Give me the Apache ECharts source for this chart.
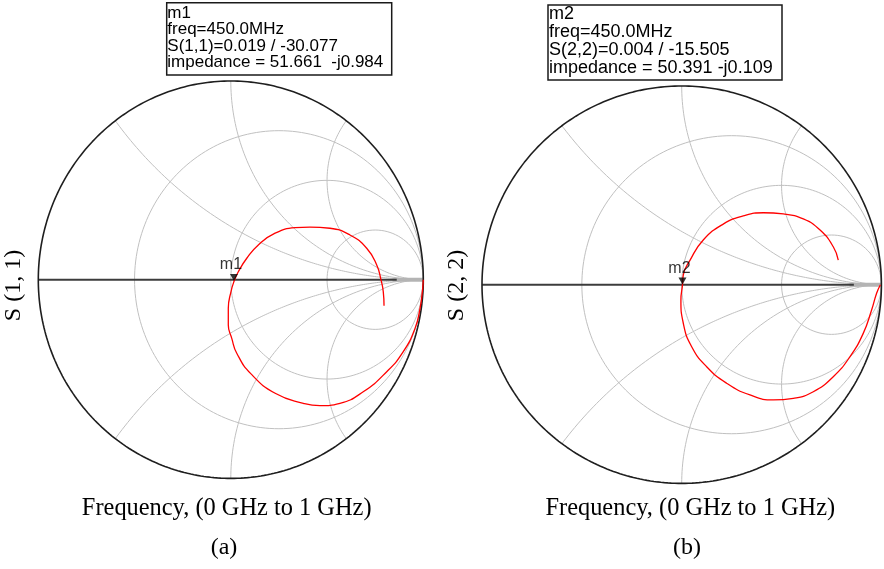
<!DOCTYPE html>
<html>
<head>
<meta charset="utf-8">
<script src="https://cdn.jsdelivr.net/npm/echarts@6/dist/echarts.min.js"></script>
<style>
html,body{margin:0;padding:0;background:#fff;}
#chart{width:884px;height:569px;}
</style>
</head>
<body>
<div id="chart"></div>
<script>
const s11Re = [1.000, 0.995, 0.983, 0.957, 0.896, 0.810, 0.688, 0.567, 0.463, 0.377, 0.233, 0.105, 0.031, 0.005, -0.013, -0.013, 0.001, 0.017, 0.039, 0.083, 0.143, 0.230, 0.334, 0.411, 0.515, 0.619, 0.706, 0.758, 0.780, 0.792, 0.796];
const s11Im = [0.000, -0.060, -0.144, -0.245, -0.362, -0.463, -0.564, -0.622, -0.634, -0.622, -0.573, -0.474, -0.370, -0.295, -0.228, -0.144, -0.060, -0.008, 0.040, 0.108, 0.175, 0.234, 0.262, 0.265, 0.259, 0.225, 0.158, 0.074, 0.000, -0.060, -0.131];
const s22Re = [0.995, 0.976, 0.951, 0.909, 0.843, 0.759, 0.659, 0.559, 0.459, 0.342, 0.225, 0.125, 0.050, 0.008, -0.004, 0.004, 0.008, 0.042, 0.108, 0.208, 0.308, 0.409, 0.509, 0.609, 0.693, 0.759, 0.784];
const s22Im = [0.000, -0.043, -0.127, -0.245, -0.362, -0.463, -0.539, -0.572, -0.580, -0.555, -0.496, -0.413, -0.312, -0.194, -0.077, -0.001, 0.049, 0.124, 0.225, 0.305, 0.346, 0.362, 0.356, 0.331, 0.275, 0.191, 0.124];

// markers (magnitude, angle in degrees)
const marker1 = {name: 'm1', mag: 0.019, ang: -30.077};
const marker2 = {name: 'm2', mag: 0.004, ang: -15.505};
const marker1Text = ['m1', 'freq=450.0MHz', 'S(1,1)=0.019 / -30.077', 'impedance = 51.661  -j0.984'];
const marker2Text = ['m2', 'freq=450.0MHz', 'S(2,2)=0.004 / -15.505', 'impedance = 50.391 -j0.109'];

// Smith chart grid values
const resistanceCircles = [1/3, 1, 3];
const reactanceArcs = [0.5, 1, 2, -0.5, -1, -2];

const yLabels = ['S (1, 1)', 'S (2, 2)'];
const xLabel = 'Frequency, (0 GHz to 1 GHz)';
const captions = ['(a)', '(b)'];

// ---- helpers to build Smith chart furniture ----
function circlePts(cx, cy, r, a0, a1, n) {
  const pts = [];
  for (let i = 0; i <= n; i++) {
    const a = a0 + (a1 - a0) * i / n;
    pts.push([cx + r * Math.cos(a), cy + r * Math.sin(a)]);
  }
  return pts;
}
function rCircle(r) {
  return circlePts(r / (r + 1), 0, 1 / (r + 1), 0, 2 * Math.PI, 200);
}
function xArc(x) {
  const ax = Math.abs(x);
  let end = Math.atan2((ax * ax - 1) / ax, -2);
  if (end > -Math.PI / 2) end -= 2 * Math.PI;
  const pts = circlePts(1, 1 / ax, 1 / ax, -Math.PI / 2, end, 160);
  return x < 0 ? pts.map(p => [p[0], -p[1]]) : pts;
}
function zip(a, b) { return a.map((v, i) => [v, b[i]]); }
function polar(m) {
  const t = m.ang * Math.PI / 180;
  return [m.mag * Math.cos(t), m.mag * Math.sin(t)];
}

const GRID_COLOR = '#c0c0c0';
function smithSeries(idx, traceRe, traceIm, marker) {
  const s = [];
  const base = {type: 'line', xAxisIndex: idx, yAxisIndex: idx, showSymbol: false, symbol: 'none', silent: true, animation: false, z: 2};
  resistanceCircles.forEach(r => s.push(Object.assign({}, base, {data: rCircle(r), lineStyle: {color: GRID_COLOR, width: 1}})));
  reactanceArcs.forEach(x => s.push(Object.assign({}, base, {data: xArc(x), lineStyle: {color: GRID_COLOR, width: 1}})));
  // grey convergence near the open-circuit point
  s.push(Object.assign({}, base, {data: [[0.84, 0], [1, 0]], lineStyle: {color: '#b4b4b4', width: 4}, z: 3}));
  // real axis
  s.push(Object.assign({}, base, {data: [[-1, 0], [0.862, 0]], lineStyle: {color: '#3c3c3c', width: 2}, z: 4}));
  // outer circle
  s.push(Object.assign({}, base, {data: circlePts(0, 0, 1, 0, 2 * Math.PI, 360), clip: false, lineStyle: {color: '#1e1e1e', width: 1.6}, z: 5}));
  // trace
  s.push(Object.assign({}, base, {data: zip(traceRe, traceIm), smooth: 0.5, clip: false, lineStyle: {color: '#ff0000', width: 1.3}, z: 6}));
  // marker
  s.push({
    type: 'scatter', xAxisIndex: idx, yAxisIndex: idx, silent: true, animation: false, z: 7,
    data: [polar(marker)],
    symbol: 'triangle', symbolRotate: 180, symbolSize: [8, 7], symbolOffset: [0, -4],
    itemStyle: {color: '#000'},
    label: {show: true, position: 'top', distance: 1, offset: [-3, 0], formatter: marker.name,
            fontFamily: 'Liberation Sans, Arial, sans-serif', fontSize: 16, color: '#000'}
  });
  return s;
}

const axisBase = {type: 'value', min: -1, max: 1, show: false};

const chart = echarts.init(document.getElementById('chart'), null, {renderer: 'canvas'});
const serif = 'Liberation Serif, "Times New Roman", serif';
const sans = 'Liberation Sans, Arial, sans-serif';

chart.setOption({
  backgroundColor: '#ffffff',
  animation: false,
  grid: [
    {left: 38.3, top: 81, width: 385, height: 397.4},
    {left: 482, top: 86, width: 399.4, height: 397.4}
  ],
  xAxis: [Object.assign({gridIndex: 0}, axisBase), Object.assign({gridIndex: 1}, axisBase)],
  yAxis: [Object.assign({gridIndex: 0}, axisBase), Object.assign({gridIndex: 1}, axisBase)],
  series: [].concat(smithSeries(0, s11Re, s11Im, marker1), smithSeries(1, s22Re, s22Im, marker2)),
  graphic: [
    // marker info boxes
    {type: 'rect', shape: {x: 166.7, y: 2.7, width: 225, height: 72.3}, style: {fill: '#fff', stroke: '#1a1a1a', lineWidth: 1.5}, z: 10},
    {type: 'text', x: 167.3, y: 4.7, z: 11, style: {text: marker1Text.join('\n'), font: '17px ' + sans, lineHeight: 16.6, fill: '#000', align: 'left', verticalAlign: 'top'}},
    {type: 'rect', shape: {x: 548, y: 5, width: 234, height: 75}, style: {fill: '#fff', stroke: '#1a1a1a', lineWidth: 1.5}, z: 10},
    {type: 'text', x: 549, y: 5.5, z: 11, style: {text: marker2Text.join('\n'), font: '18px ' + sans, lineHeight: 18, fill: '#000', align: 'left', verticalAlign: 'top'}},
    // y labels
    {type: 'text', x: 13.5, y: 285.5, rotation: Math.PI / 2, style: {text: yLabels[0], font: '24px ' + serif, fill: '#000', align: 'center', verticalAlign: 'middle'}},
    {type: 'text', x: 457, y: 285.5, rotation: Math.PI / 2, style: {text: yLabels[1], font: '24px ' + serif, fill: '#000', align: 'center', verticalAlign: 'middle'}},
    // x labels
    {type: 'text', x: 226.7, y: 509, style: {text: xLabel, font: '24.4px ' + serif, fill: '#000', align: 'center', verticalAlign: 'middle'}},
    {type: 'text', x: 690.3, y: 509, style: {text: xLabel, font: '24.4px ' + serif, fill: '#000', align: 'center', verticalAlign: 'middle'}},
    // captions
    {type: 'text', x: 224, y: 547.7, style: {text: captions[0], font: '24px ' + serif, fill: '#000', align: 'center', verticalAlign: 'middle'}},
    {type: 'text', x: 687, y: 547.7, style: {text: captions[1], font: '24px ' + serif, fill: '#000', align: 'center', verticalAlign: 'middle'}}
  ]
});
</script>
</body>
</html>
